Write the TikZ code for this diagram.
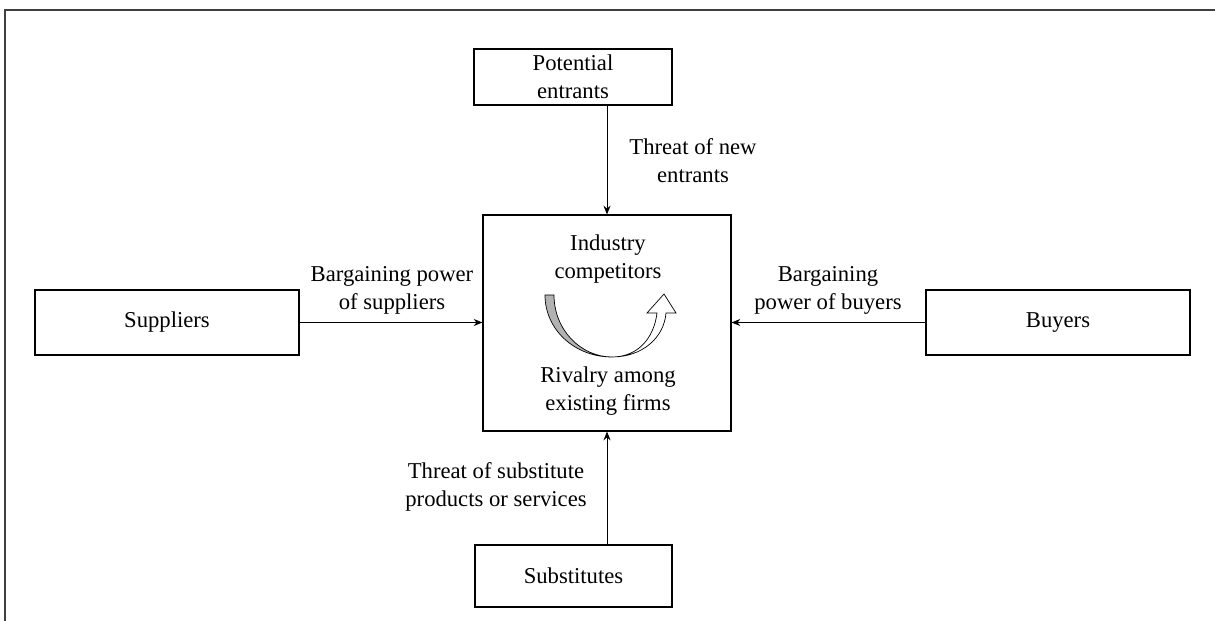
\documentclass[tikz,border=0pt]{standalone}
\usepackage{fontspec}
\setmainfont{Liberation Serif}
\usetikzlibrary{arrows.meta}

\begin{document}
\begin{tikzpicture}[x=0.02cm,y=-0.02cm,
    every node/.style={font=\fontsize{12.9}{15.9}\selectfont},
    force/.style={draw,line width=0.6pt,inner sep=0pt},
    lbl/.style={align=center,inner sep=0pt},
    push/.style={-{Stealth[length=5pt,width=4pt]},line width=0.5pt}]
  \useasboundingbox (0,0) rectangle (1215,621);
  \draw[line width=1.1pt,black!75] (5,621) -- (5,10) -- (1215,10);
  % the five boxes
  \node[force,minimum width=198*0.02cm,minimum height=56*0.02cm,align=center]
    (entrants) at (573,77) {Potential\\entrants};
  \node[force,minimum width=248*0.02cm,minimum height=216*0.02cm]
    (firms) at (607,323) {};
  \node[force,minimum width=264*0.02cm,minimum height=65*0.02cm]
    (suppliers) at (167,322.5) {Suppliers};
  \node[force,minimum width=264*0.02cm,minimum height=65*0.02cm]
    (buyers) at (1058,322.5) {Buyers};
  \node[force,minimum width=197*0.02cm,minimum height=62*0.02cm]
    (substitutes) at (573.5,576) {Substitutes};
  % texts inside the centre box
  \node[lbl] (industry) at (608,259) {Industry\\competitors};
  \node[lbl] (rivalry) at (608,391) {Rivalry among\\existing firms};
  % the turning arrow
  \draw[line width=0.4pt,fill=black!30]
    (545,295) .. controls (545,330) and (575,357) .. (612,357)
    .. controls (581,357) and (554,330) .. (554,295) -- cycle;
  \draw[line width=0.4pt,fill=white]
    (612,357) .. controls (642,357) and (664,338) .. (666,313)
    -- (676,313) -- (664,294) -- (647,313) -- (657,313)
    .. controls (654,338) and (638,357) .. (612,357) -- cycle;
  % forces
  \draw[push] (entrants.south -| firms) -- (firms.north);
  \draw[push] (suppliers.east) -- (suppliers.east -| firms.west);
  \draw[push] (buyers.west) -- (buyers.west -| firms.east);
  \draw[push] (substitutes.north -| firms) -- (firms.south);
  % labels of the forces
  \node[lbl] (newthreat) at (693,161) {Threat of new\\entrants};
  \node[lbl] (supplypower) at (392,290) {Bargaining power\\of suppliers};
  \node[lbl] (buypower) at (828,290) {Bargaining\\power of buyers};
  \node[lbl] (subthreat) at (496,487) {Threat of substitute\\products or services};
\end{tikzpicture}
\end{document}
